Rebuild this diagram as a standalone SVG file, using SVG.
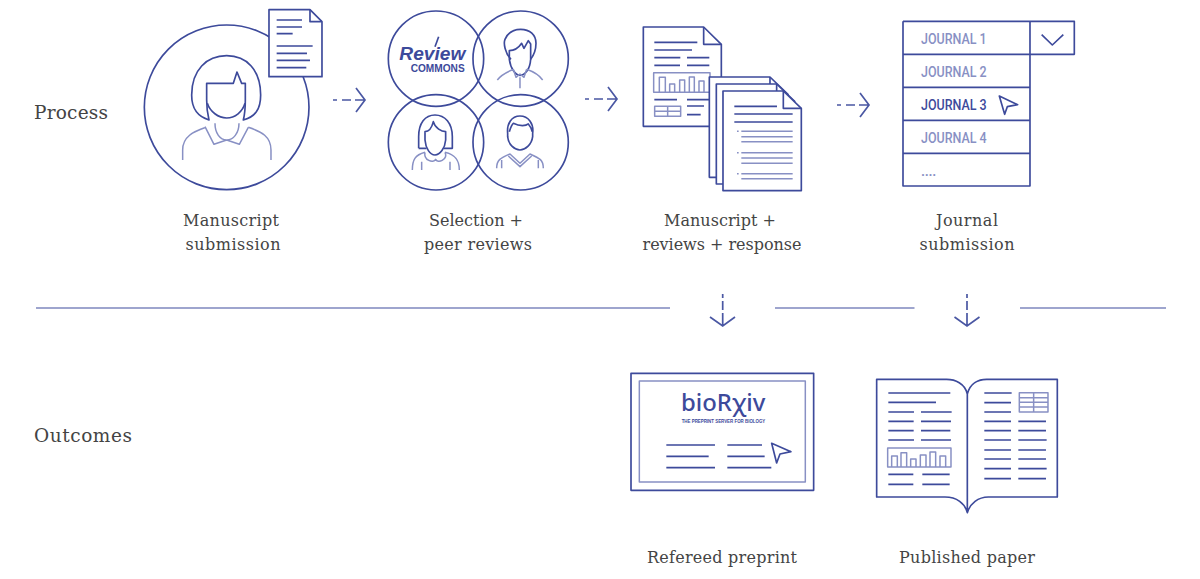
<svg xmlns="http://www.w3.org/2000/svg" width="1200" height="579" viewBox="0 0 1200 579">
<style>
.d{fill:none;stroke:#3d4a9b;stroke-width:5;stroke-linejoin:round}
.l{fill:none;stroke:#8890c4;stroke-width:4.5;stroke-linejoin:round}
.w{fill:#fff}
.c{fill:none;stroke:#4a57a3;stroke-width:1.7}
.s{fill:none;stroke:#7f88bf;stroke-width:1.7}
.t{font-family:"DejaVu Serif","Liberation Serif",serif;font-size:16px;fill:#444;text-anchor:middle}
.h{font-family:"DejaVu Serif","Liberation Serif",serif;font-size:18.500px;fill:#444}
.j{font-family:Roboto,"Liberation Sans",sans-serif;font-weight:500;font-size:44px;fill:#8890c4}
.k{fill:#3d4a9b}
</style>
<rect width="1200" height="579" fill="#fff"/>
<g id="section-labels">
<text class="h" x="34" y="119" textLength="74">Process</text>
<text class="h" x="34" y="442" textLength="98">Outcomes</text>
</g>
<g id="manuscript-submission">
<g transform="translate(130,0) scale(.3333)">
<circle class="d" cx="290" cy="322" r="247"/>
<path class="d" d="M237 360C205 350 185 330 185 285C185 210 230 167 290 167C350 167 392 210 392 285C392 330 375 350 340 360C345 340 346 320 346 300L346 250L335 250L321 216L310 250L230 250L230 300C230 320 232 340 237 360Z"/>
<path class="d" d="M232 310C240 335 265 354 290 354C315 354 338 335 345 310"/>
<path class="l" d="M158 480V450C158 410 190 395 228 382M423 480V450C423 410 395 395 355 382M225 380L252 433L290 420L328 433L355 382M255 370C255 400 270 420 290 420C310 420 327 400 327 370"/>
<path class="d w" d="M417 29H540L576 65V230H417Z"/>
<path class="d" d="M540 29V65H576M440 60H516M440 81H516M440 101H488M440 138H548M440 160H531M440 181H540M440 203H529"/>
</g>
<text class="t" x="231" y="226" textLength="96">Manuscript</text>
<text class="t" x="233" y="250" textLength="95">submission</text>
</g>
<g id="selection-peer-reviews">
<g transform="translate(380,0) scale(.3333)">
<circle class="d" cx="168" cy="176" r="143"/>
<circle class="d" cx="422" cy="176" r="143"/>
<circle class="d" cx="168" cy="427" r="143"/>
<circle class="d" cx="422" cy="427" r="143"/>
<text class="k" x="58" y="180" font-family="'Liberation Sans',sans-serif" font-weight="700" font-style="italic" font-size="56" textLength="198" lengthAdjust="spacingAndGlyphs">Review</text>
<path d="M176 110L165 140" stroke="#3d4a9b" stroke-width="5" fill="none"/>
<text class="k" x="92" y="217" font-family="'Liberation Sans',sans-serif" font-weight="700" font-size="30" textLength="162" lengthAdjust="spacingAndGlyphs">COMMONS</text>
<path class="d" d="M393 178C375 160 370 130 375 118C385 95 405 88 422 88C450 88 468 105 468 130C468 150 462 165 452 178"/>
<path class="d" d="M388 152L388 178C392 208 408 226 420 226C435 226 450 208 452 178V132L445 122L432 145L425 130C415 145 400 152 388 152Z"/>
<path class="l" d="M352 240C365 222 385 215 400 208M440 208C460 215 475 222 488 240M400 208L408 232L420 222L432 232L440 208M420 232V265"/>
<path class="d" d="M116 445V410C116 370 135 345 165 345C195 345 217 370 217 410V445H190M116 445H140"/>
<path class="d" d="M135 395C145 395 155 385 160 365C165 385 185 395 197 395V420C195 445 180 465 165 465C150 465 137 445 135 420Z"/>
<path class="l" d="M97 510C97 480 105 465 135 457M195 457C230 465 238 485 238 510M135 457C130 480 160 492 167 478C172 492 205 480 195 457M125 485V510M210 485V510"/>
<path class="d" d="M383 400C380 370 395 348 420 348C445 348 462 370 458 400V410C455 435 435 450 420 450C405 450 385 435 383 410ZM388 395C392 382 395 374 400 370C420 380 438 378 445 372C452 380 455 388 457 395"/>
<path class="l" d="M350 505C350 480 360 475 390 462L420 490L450 462C480 475 490 480 490 505M385 468L420 500L455 468M365 480V505M475 480V505"/>
</g>
<text class="t" x="476" y="226" textLength="94">Selection +</text>
<text class="t" x="478" y="250" textLength="108">peer reviews</text>
</g>
<g id="manuscript-reviews-response">
<g transform="translate(630,15) scale(.3333)">
<path class="d" d="M40 36H221L274 88V334H40Z"/>
<path class="d" d="M221 36V88H274M73 82H202M73 105H186M73 128H151M171 128H238M73 151H150M171 151H238M73 254H141M171 254H238M171 273H222M171 299H212"/>
<path class="l" d="M71 232V173H240V232ZM88 232V187H106V232M119 232V207H134V232M149 232V195H164V232M178 232V186H193V232M207 232V198H222V232"/>
<path class="l" d="M74 274H152V304H74ZM74 289H152M113 274V304"/>
<path class="d w" d="M238 186H420L474 238V487H238Z"/>
<path class="d" d="M420 186V238H474"/>
<path class="d w" d="M259 207H440L494 259V507H259Z"/>
<path class="d" d="M440 207V259H494"/>
<path class="d w" d="M279 228H460L514 280V527H279Z"/>
<path class="d" d="M460 228V280H514M313 274H441M313 297H488M313 321H488"/>
<path class="l" d="M334 349H488M334 365H488M334 380H488M334 413H488M334 429H488M334 445H488M334 476H488M334 491H488M321 349H326M321 413H326M321 476H326"/>
</g>
<text class="t" x="720" y="226" textLength="112">Manuscript +</text>
<text class="t" x="722" y="250" textLength="159">reviews + response</text>
</g>
<g id="journal-submission">
<g transform="translate(890,10) scale(.3333)">
<path class="d" d="M39 34H553V133H420M39 34V528H420V34M39 133H420M39 232H420M39 331H420M39 430H420"/>
<path class="d" d="M455 74L487 105L520 74"/>
<text class="j" x="93" y="102" textLength="197" lengthAdjust="spacingAndGlyphs">JOURNAL 1</text>
<text class="j" x="93" y="201" textLength="197" lengthAdjust="spacingAndGlyphs">JOURNAL 2</text>
<text class="j" x="93" y="300" textLength="197" lengthAdjust="spacingAndGlyphs" style="fill:#3d4a9b">JOURNAL 3</text>
<text class="j" x="93" y="399" textLength="197" lengthAdjust="spacingAndGlyphs">JOURNAL 4</text>
<text class="j" x="93" y="498" textLength="46">....</text>
<path class="d" d="M328 258L383 284L352 290L344 313Z"/>
</g>
<text class="t" x="967" y="226" textLength="62">Journal</text>
<text class="t" x="967" y="250" textLength="95">submission</text>
</g>
<g id="refereed-preprint">
<g transform="translate(620,365) scale(.3333)">
<rect class="d" x="33" y="25" width="548" height="351"/>
<rect class="l" x="58" y="48" width="498" height="303"/>
<text class="k" x="183" y="137" font-family="'Noto Sans','DejaVu Sans',sans-serif" font-weight="500" font-size="70" textLength="253" lengthAdjust="spacingAndGlyphs">bioRχiv</text>
<text class="k" x="185" y="173" font-family="'Liberation Sans',sans-serif" font-weight="700" font-size="14" textLength="251" lengthAdjust="spacingAndGlyphs">THE PREPRINT SERVER FOR BIOLOGY</text>
<path class="d" d="M139 240H285M322 240H426M139 274H266M322 274H434M139 308H285M322 308H454"/>
<path class="d" d="M455 235L513 260L480 267L470 294Z"/>
</g>
<text class="t" x="722" y="563" textLength="150">Refereed preprint</text>
</g>
<g id="published-paper">
<g transform="translate(865,370) scale(.3333)">
<path class="d" d="M307 72C300 40 270 28 245 28H35V381H240C275 381 300 400 307 428C315 400 340 381 370 381H577V28H365C340 28 315 40 307 72V428"/>
<path class="d" d="M70 69H256M70 97H213M70 126H147M168 126H260M70 154H146M168 154H258M70 182H146M168 182H256M70 210H147M168 210H258M70 313H145M172 313H254M70 343H145M172 343H254"/>
<path class="d" d="M358 69H440M358 98H438M358 126H438M358 154H438M460 154H543M358 182H438M460 182H543M358 210H438M460 210H545M358 240H438M460 240H543M358 267H438M460 267H543M358 296H438M460 296H545M358 326H438M460 326H543"/>
<path class="l" d="M68 291V234H258V291ZM80 291V258H97V291M108 291V248H125V291M137 291V267H153V291M166 291V255H183V291M195 291V246H212V291M225 291V258H242V291"/>
<path class="l" d="M463 68H549V126H463ZM463 83H549M463 97H549M463 111H549M506 68V126"/>
</g>
<text class="t" x="967" y="563" textLength="136">Published paper</text>
</g>
<g id="connectors">
<path class="s" d="M36 308H670M775 308H914.500M1020 308H1166"/>
<g class="c">
<path d="M333 100H337M342 100H351M355 100H365M356 88L365 100L356 112"/>
<path d="M585 99H589M594 99H603M607 99H617M608 87L617 99L608 111"/>
<path d="M837 105H841M846 105H855M859 105H869M860 93L869 105L860 117"/>
<path d="M722.700 294V298M722.700 301V310M722.700 313V326M710 317L722.700 326L735 317"/>
<path d="M967 294V298M967 301V310M967 313V326M954.500 317L967 326L979.500 317"/>
</g>
</g>
</svg>
